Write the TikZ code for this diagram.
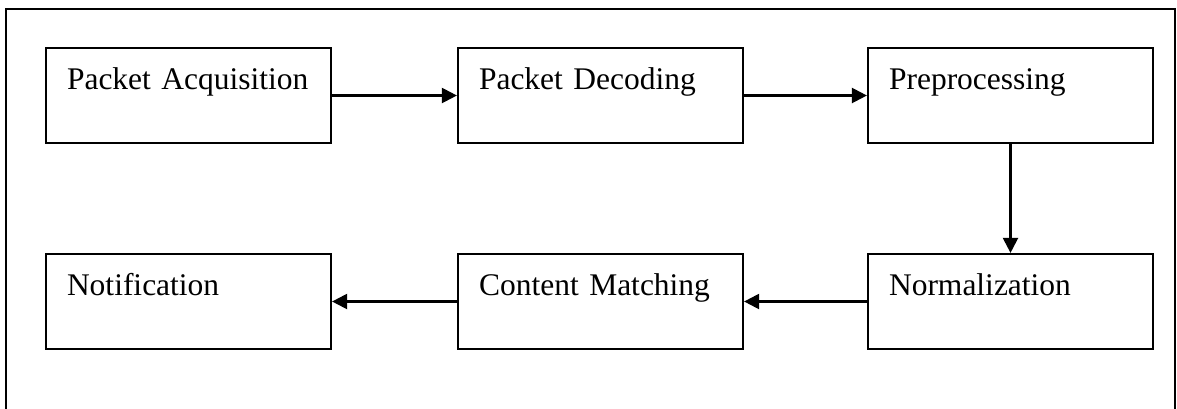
\documentclass[tikz,border=0pt]{standalone}
\usepackage{fontspec}
\setmainfont{Liberation Serif}
\usetikzlibrary{arrows.meta}
\begin{document}
\begin{tikzpicture}[x=1pt,y=-1pt,
  stagebox/.style={draw, line width=2.2pt, rectangle, inner xsep=21pt, inner ysep=0pt,
    text width=243pt, align=left, text height=41pt, text depth=54pt,
    font=\fontsize{31.5}{38}\selectfont},
  flow/.style={line width=2.2pt, -{Triangle[length=15pt,width=15pt]}}]
\useasboundingbox (0,0) rectangle (1177,408);
\begin{scope}
\clip (0,0) rectangle (1177,408);
\draw[line width=2.2pt] (6,420) -- (6,9) -- (1175,9) -- (1175,420);
\end{scope}
\node[stagebox] (acq) at (188.5,95.5) {\mbox{Packet Acquisition}};
\node[stagebox] (dec) at (600.5,95.5) {\mbox{Packet Decoding}};
\node[stagebox] (pre) at (1010.5,95.5) {\mbox{Preprocessing}};
\node[stagebox] (nor) at (1010.5,301.5) {\mbox{Normalization}};
\node[stagebox] (con) at (600.5,301.5) {\mbox{Content Matching}};
\node[stagebox] (not) at (188.5,301.5) {\mbox{Notification}};
\draw[flow] (acq) -- (dec);
\draw[flow] (dec) -- (pre);
\draw[flow] (pre) -- (nor);
\draw[flow] (nor) -- (con);
\draw[flow] (con) -- (not);
\end{tikzpicture}
\end{document}
